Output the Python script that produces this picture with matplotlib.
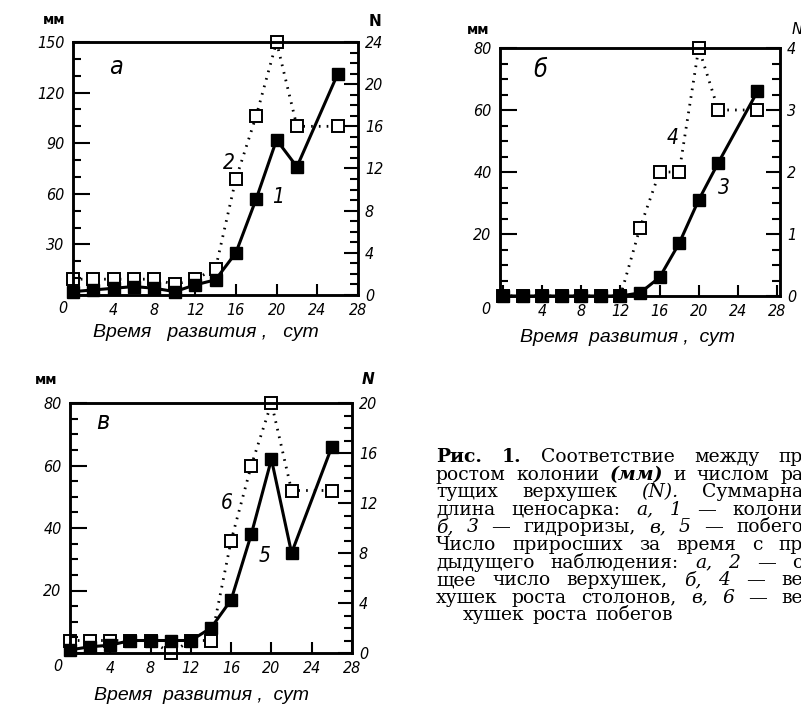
import matplotlib
matplotlib.use("Agg")
import matplotlib.pyplot as plt
from matplotlib import font_manager
from matplotlib.font_manager import FontProperties
from matplotlib.ticker import MultipleLocator, FuncFormatter

# данные: сутки развития
days = [0, 2, 4, 6, 8, 10, 12, 14, 16, 18, 20, 22, 26]

# а: колония (мм) и общее число верхушек (N)
a_len = [2, 3, 4, 5, 4, 2, 6, 9, 25, 57, 92, 76, 131]
a_tips = [1.5, 1.5, 1.5, 1.5, 1.5, 1, 1.5, 2.5, 11, 17, 24, 16, 16]

# б: гидроризы (мм) и верхушки роста столонов (N)
b_len = [0, 0, 0, 0, 0, 0, 0, 1, 6, 17, 31, 43, 66]
b_tips = [0, 0, 0, 0, 0, 0, 0, 1.1, 2, 2, 4, 3, 3]

# в: побеги (мм) и верхушки роста побегов (N)
v_len = [1, 2, 2.5, 4, 4, 4, 4, 8, 17, 38, 62, 32, 66]
v_tips = [1, 1, 1, 1, 1, 0, 1, 1, 9, 15, 20, 13, 13]

x_ticks = [0, 4, 8, 12, 16, 20, 24, 28]
x_title = "Время  развития ,  сут"

caption = [
    [("Рис.", "b"), ("1.", "b"), ("Соответствие", ""), ("между", ""), ("пр", "")],
    [("ростом", ""), ("колонии", ""), ("(мм)", "bi"), ("и", ""), ("числом", ""), ("ра", "")],
    [("тущих", ""), ("верхушек", ""), ("(N).", "i"), ("Суммарна", "")],
    [("длина", ""), ("ценосарка:", ""), ("а,", "i"), ("1", "i"), ("—", ""), ("колони", "")],
    [("б,", "i"), ("3", "i"), ("—", ""), ("гидроризы,", ""), ("в,", "i"), ("5", "i"), ("—", ""), ("побего", "")],
    [("Число", ""), ("приросших", ""), ("за", ""), ("время", ""), ("с", ""), ("пр", "")],
    [("дыдущего", ""), ("наблюдения:", ""), ("а,", "i"), ("2", "i"), ("—", ""), ("о", "")],
    [("щее", ""), ("число", ""), ("верхушек,", ""), ("б,", "i"), ("4", "i"), ("—", ""), ("ве", "")],
    [("хушек", ""), ("роста", ""), ("столонов,", ""), ("в,", "i"), ("6", "i"), ("—", ""), ("ве", "")],
    [("хушек", ""), ("роста", ""), ("побегов", "")],
]

# шрифт для цифр: узкий курсив, если есть
names = {f.name for f in font_manager.fontManager.ttflist}
if "Liberation Sans Narrow" in names:
    fp_tick = FontProperties(family="Liberation Sans Narrow", style="italic", size=13.5)
    fp_num = FontProperties(family="Liberation Sans Narrow", style="italic", size=15)
else:
    fp_tick = FontProperties(family="DejaVu Sans", style="oblique", stretch="condensed", size=11.5)
    fp_num = FontProperties(family="DejaVu Sans", style="oblique", stretch="condensed", size=13)
fp_title = FontProperties(family="Liberation Sans", style="italic", size=14)

W, H = 801, 704
fig = plt.figure(figsize=(W / 100, H / 100), dpi=100)
renderer = fig.canvas.get_renderer()


def box(l, t, r, b):
    return [l / W, 1 - b / H, (r - l) / W, (b - t) / H]


def no_zero(v, pos):
    return "" if abs(v) < 1e-9 else f"{v:g}"


def panel(rect, length, tips, xlim, ymax, ystep, yminor, nmax, nstep, nminor, zero_dx):
    ax = fig.add_axes(rect)
    ax2 = ax.twinx()
    ax.plot(days, length, "-", color="black", lw=2.2, marker="s", ms=8,
            mfc="black", mec="black", clip_on=False, zorder=3)
    ax2.plot(days, tips, color="black", lw=2, ls=(0, (0.6, 2.2)), marker="s", ms=8,
             mfc="white", mec="black", mew=1.4, clip_on=False, zorder=2)
    ax.set_xlim(*xlim)
    ax.set_ylim(0, ymax)
    ax2.set_ylim(0, nmax)
    ax.set_xticks(x_ticks)
    # общий «0» в углу рисуется отдельно
    ax.xaxis.set_major_formatter(FuncFormatter(no_zero))
    ax.yaxis.set_major_formatter(FuncFormatter(no_zero))
    ax.yaxis.set_major_locator(MultipleLocator(ystep))
    ax.yaxis.set_minor_locator(MultipleLocator(yminor))
    ax2.yaxis.set_major_locator(MultipleLocator(nstep))
    ax2.yaxis.set_minor_locator(MultipleLocator(nminor))
    ax.tick_params(axis="x", direction="in", length=8, width=1.5, pad=6, top=False)
    ax.tick_params(axis="y", which="major", direction="in", length=12, width=1.5, pad=6)
    ax.tick_params(axis="y", which="minor", direction="in", length=6, width=1.5)
    ax2.tick_params(axis="y", which="major", direction="in", length=10, width=1.5, pad=5)
    ax2.tick_params(axis="y", which="minor", direction="in", length=6, width=1.5)
    for a in (ax, ax2):
        for s in a.spines.values():
            s.set_linewidth(1.8)
    for lab in ax.get_xticklabels() + ax.get_yticklabels() + ax2.get_yticklabels():
        lab.set_fontproperties(fp_tick)
    ax.annotate("0", xy=(0, 0), xycoords="axes fraction", xytext=(zero_dx, -4.5),
                textcoords="offset points", ha="center", va="top", fontproperties=fp_tick)
    ax.set_zorder(ax2.get_zorder() + 1)
    ax.patch.set_visible(False)
    return ax, ax2


def ptext(x, y, s, **kw):
    fig.text(x / W, 1 - y / H, s, ha="center", va="center", **kw)


def label(ax, x, y, s, size):
    ax.text(x, y, s, fontproperties=fp_num, fontsize=size, ha="center", va="center")


# панель а
ax, ax2 = panel(box(73, 42, 358, 295), a_len, a_tips, (0, 28), 150, 30, 10, 24, 4, 1, -7.5)
label(ax, 4.2, 135, "а", 18)
label(ax, 15.3, 78, "2", 15)
label(ax, 20.1, 58, "1", 15)
ptext(54, 20, "мм", family="DejaVu Sans", weight="bold", fontsize=10)
ptext(375, 21, "N", family="DejaVu Sans", weight="bold", fontsize=11)
ptext(206, 332, x_title.replace("  ", "   "), fontproperties=fp_title)

# панель б
ax, ax2 = panel(box(500, 48, 780, 296), b_len, b_tips, (-0.3, 28.3), 80, 20, 5, 4, 1, 0.25, -10)
label(ax, 3.8, 73, "б", 18)
label(ax, 17.3, 51, "4", 15)
label(ax, 22.6, 35, "3", 15)
ptext(478, 30, "мм", family="DejaVu Sans", weight="bold", fontsize=10)
ptext(797, 30, "N", family="DejaVu Sans", style="italic", fontsize=11)
ptext(627, 337, x_title, fontproperties=fp_title)

# панель в
ax, ax2 = panel(box(70, 403, 352, 653), v_len, v_tips, (0, 28), 80, 20, 5, 20, 4, 1, -9)
label(ax, 3.3, 74, "в", 18)
label(ax, 15.6, 48, "6", 15)
label(ax, 19.3, 31, "5", 15)
ptext(46, 380, "мм", family="DejaVu Sans", weight="bold", fontsize=10)
ptext(368, 380, "N", family="DejaVu Sans", style="italic", weight="bold", fontsize=11)
ptext(202, 695, x_title, fontproperties=fp_title)

# подпись к рисунку, выровненная по ширине
styles = {"": {}, "b": {"weight": "bold"}, "i": {"style": "italic"},
          "bi": {"weight": "bold", "style": "italic"}}
x0, x1 = 436, 803
y0, dy = 462, 17.6
for i, line in enumerate(caption):
    y = y0 + i * dy
    items = []
    for word, st in line:
        t = fig.text(0, 1 - y / H, word, family="DejaVu Serif", fontsize=13.5,
                     va="baseline", ha="left", **styles[st])
        items.append((t, t.get_window_extent(renderer).width))
    if i < len(caption) - 1:
        gap = (x1 - x0 - sum(w for _, w in items)) / (len(items) - 1)
        x = x0
    else:
        gap = 8
        x = 463
    for t, w in items:
        t.set_x(x / W)
        x += w + gap

fig.savefig("out.png", dpi=100)
